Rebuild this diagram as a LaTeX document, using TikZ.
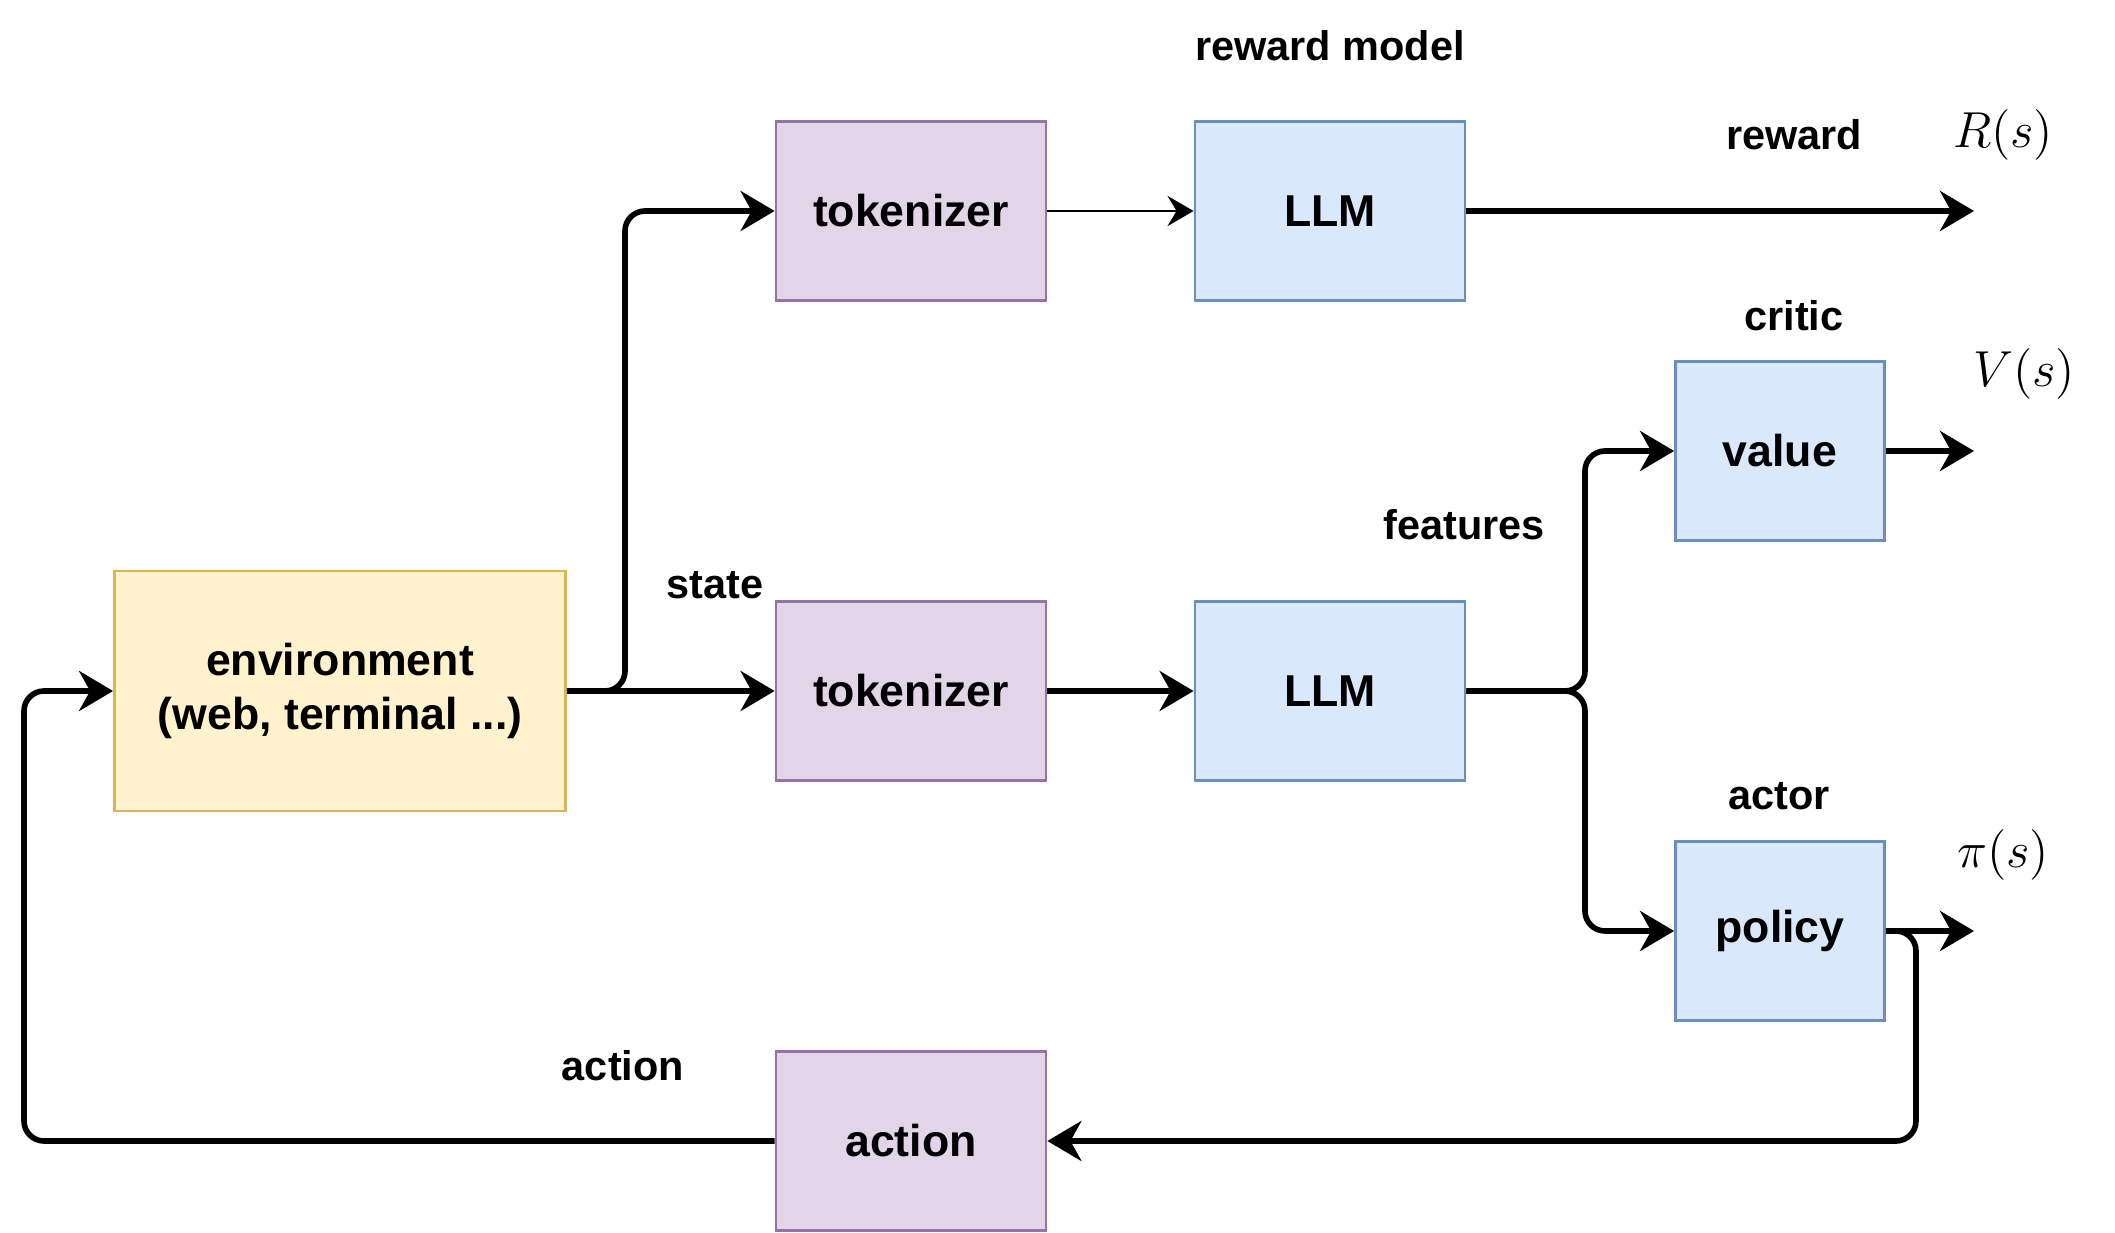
\documentclass[tikz,border=0pt]{standalone}
\usepackage{fontspec}
\setmainfont{Liberation Sans}
\usetikzlibrary{arrows.meta}
\definecolor{tokfill}{HTML}{E1D5E7}
\definecolor{tokdraw}{HTML}{9673A6}
\definecolor{llmfill}{HTML}{DAE8FC}
\definecolor{llmdraw}{HTML}{6C8EBF}
\definecolor{envfill}{HTML}{FFF2CC}
\definecolor{envdraw}{HTML}{D6B656}
\tikzset{
  box/.style={draw, line width=0.8pt, minimum height=1.79cm, inner sep=0pt,
    font=\fontsize{12.7}{15.5}\selectfont\bfseries},
  tok box/.style={box, fill=tokfill, draw=tokdraw, minimum width=2.70cm},
  llm box/.style={box, fill=llmfill, draw=llmdraw, minimum width=2.70cm},
  head box/.style={llm box, minimum width=2.09cm},
  env box/.style={box, fill=envfill, draw=envdraw, minimum width=4.51cm,
    minimum height=2.40cm, align=center},
  flow/.style={line width=1.6pt, rounded corners=2mm,
    -{Stealth[length=3.4mm,width=4mm,inset=1.1mm]}},
  thin flow/.style={line width=0.7pt,
    -{Stealth[length=2.6mm,width=3mm,inset=0.9mm]}},
  tag/.style={font=\fontsize{11.8}{14}\selectfont\bfseries},
  math tag/.style={font=\fontsize{13.4}{16}\selectfont},
}
\def\rowtop{-2.11}
\def\rowmid{-6.91}
\def\rowlow{-11.41}

\begin{document}
\begin{tikzpicture}
\useasboundingbox (0,0) rectangle (21.15,-12.33);
% ボックス
\node[env box] (env) at (3.40,\rowmid) {environment\\(web, terminal ...)};
\node[tok box] (tok1) at (9.11,\rowtop) {tokenizer};
\node[llm box] (llm1) at (13.30,\rowtop) {LLM};
\node[tok box] (tok2) at (9.11,\rowmid) {tokenizer};
\node[llm box] (llm2) at (13.30,\rowmid) {LLM};
\node[head box] (value) at (17.80,-4.51) {value};
\node[head box] (policy) at (17.80,-9.31) {policy};
\node[tok box] (act) at (9.11,\rowlow) {action};
% 分岐点と出力端
\coordinate (split) at (6.25,\rowmid);
\coordinate (fork) at (15.85,\rowmid);
\coordinate (turn) at (19.16,-9.31);
\coordinate (back) at (0.24,\rowlow);
\coordinate (rend) at (19.74,\rowtop);
\coordinate (vend) at (19.74,-4.51);
\coordinate (pend) at (19.74,-9.31);
% 矢印
\draw[flow] (env.east) -- (split) |- (tok1.west);
\draw[flow] (env.east) -- (tok2.west);
\draw[thin flow] (tok1) -- (llm1);
\draw[flow] (tok2) -- (llm2);
\draw[flow] (llm1.east) -- (rend);
\draw[flow] (llm2.east) -- (fork) |- (value.west);
\draw[flow] (llm2.east) -- (fork) |- (policy.west);
\draw[flow] (value.east) -- (vend);
\draw[flow] (policy.east) -- (pend);
\draw[flow] (policy.east) -- (turn) |- (act.east);
\draw[flow] (act.west) -- (back) |- (env.west);
% ラベル
\node[tag] (rmlabel) at (13.30,-0.46) {reward model};
\node[tag] (rwlabel) at (17.94,-1.35) {reward};
\node[math tag] (rlabel) at (20.03,-1.35) {$R(s)$};
\node[tag] (crlabel) at (17.94,-3.16) {critic};
\node[math tag] (vlabel) at (20.24,-3.74) {$V(s)$};
\node[tag] (ftlabel) at (14.64,-5.25) {features};
\node[tag] (stlabel) at (7.15,-5.85) {state};
\node[tag] (aclabel) at (17.79,-7.96) {actor};
\node[math tag] (plabel) at (20.03,-8.55) {$\pi(s)$};
\node[tag] (aolabel) at (6.23,-10.66) {action};
\end{tikzpicture}
\end{document}
